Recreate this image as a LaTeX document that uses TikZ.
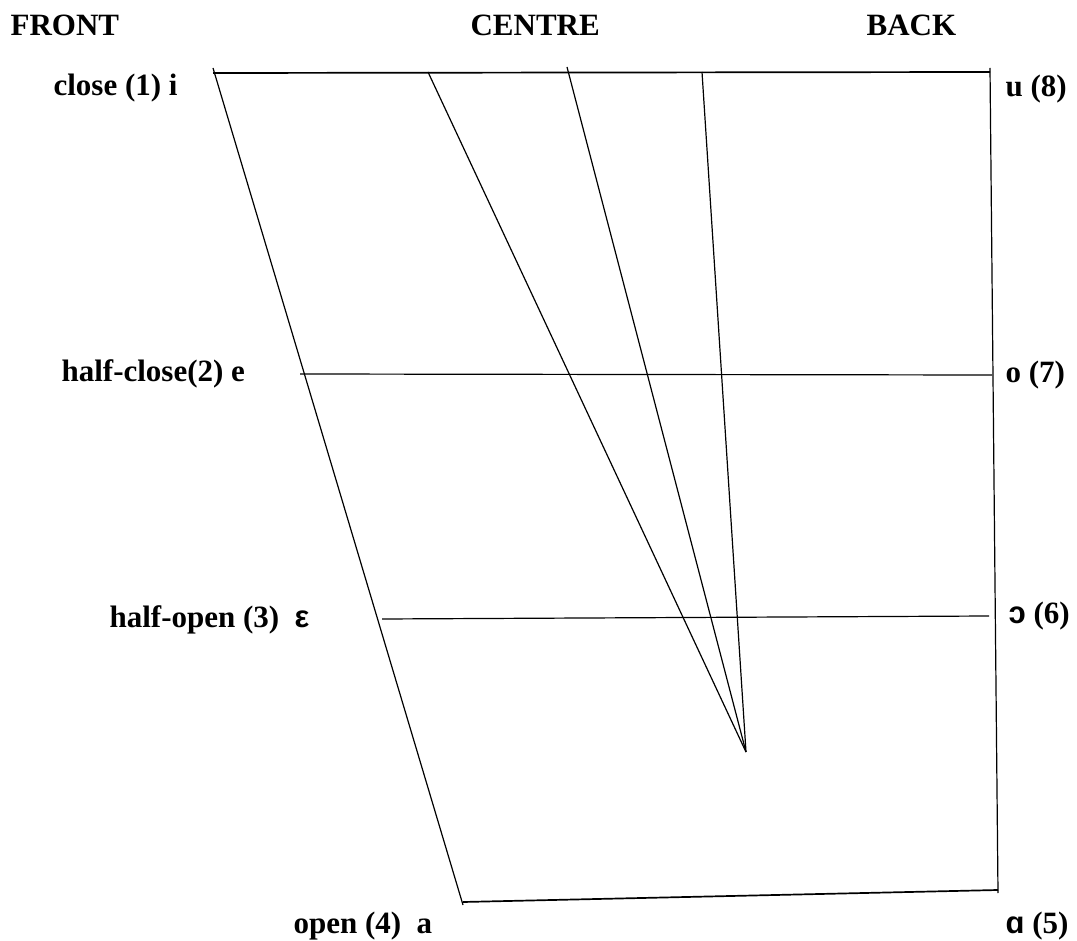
\documentclass[tikz,border=0pt]{standalone}
\usepackage{fontspec}
\setmainfont{Liberation Serif}
\newfontfamily\ipafont{Liberation Sans}
\begin{document}
\begin{tikzpicture}[x=1pt,y=-1pt,line width=1.2pt,
  lbl/.style={font=\fontsize{31}{36}\selectfont\bfseries, inner sep=0pt, anchor=base west},
  edge/.style={line width=1.2pt},
  thick edge/.style={line width=1.7pt}]
\useasboundingbox (0,0) rectangle (1077,941);
\fill[white] (0,0) rectangle (1077,941);
% coordinates
\coordinate (TL) at (213,68);
\coordinate (BL) at (463,905);
\coordinate (TLc) at (213,73);
\coordinate (TRc) at (990,72);
\coordinate (RT) at (990,68);
\coordinate (RB) at (998,893);
\coordinate (BLc) at (463,902);
\coordinate (BRc) at (998,890);
\coordinate (HC1) at (300,374);
\coordinate (HC2) at (992,375);
\coordinate (HO1) at (382,619);
\coordinate (HO2) at (989,616);
\coordinate (C1) at (428,72);
\coordinate (C2) at (567,67);
\coordinate (C3) at (702,72);
\coordinate (P) at (746,752);
% frame
\draw[edge] (TL) -- (BL);
\draw[edge] (RT) -- (RB);
\draw[thick edge] (TLc) -- (TRc);
\draw[thick edge] (BLc) -- (BRc);
\draw[edge] (HC1) -- (HC2);
\draw[edge] (HO1) -- (HO2);
% central lines
\draw[edge] (C1) -- (P);
\draw[edge] (C2) -- (P);
\draw[edge] (C3) -- (P);
% labels
\node[lbl] (front) at (10,36) {FRONT};
\node[lbl] (centre) at (470,36) {CENTRE};
\node[lbl] (back) at (866,36) {BACK};
\node[lbl] (close) at (53,96) {close (1) i};
\node[lbl] (u) at (1005,97) {u (8)};
\node[lbl] (hclose) at (61,382) {half-close(2) e};
\node[lbl] (o) at (1005,383) {o (7)};
\node[lbl] (hopen) at (109,627) {half-open (3)\ \ {\ipafont ε}};
\node[lbl] (oo) at (1008,623) {{\ipafont ɔ} (6)};
\node[lbl] (open) at (293,933) {open (4)\ \ a};
\node[lbl] (aa) at (1005,933) {{\ipafont ɑ} (5)};
\end{tikzpicture}
\end{document}
